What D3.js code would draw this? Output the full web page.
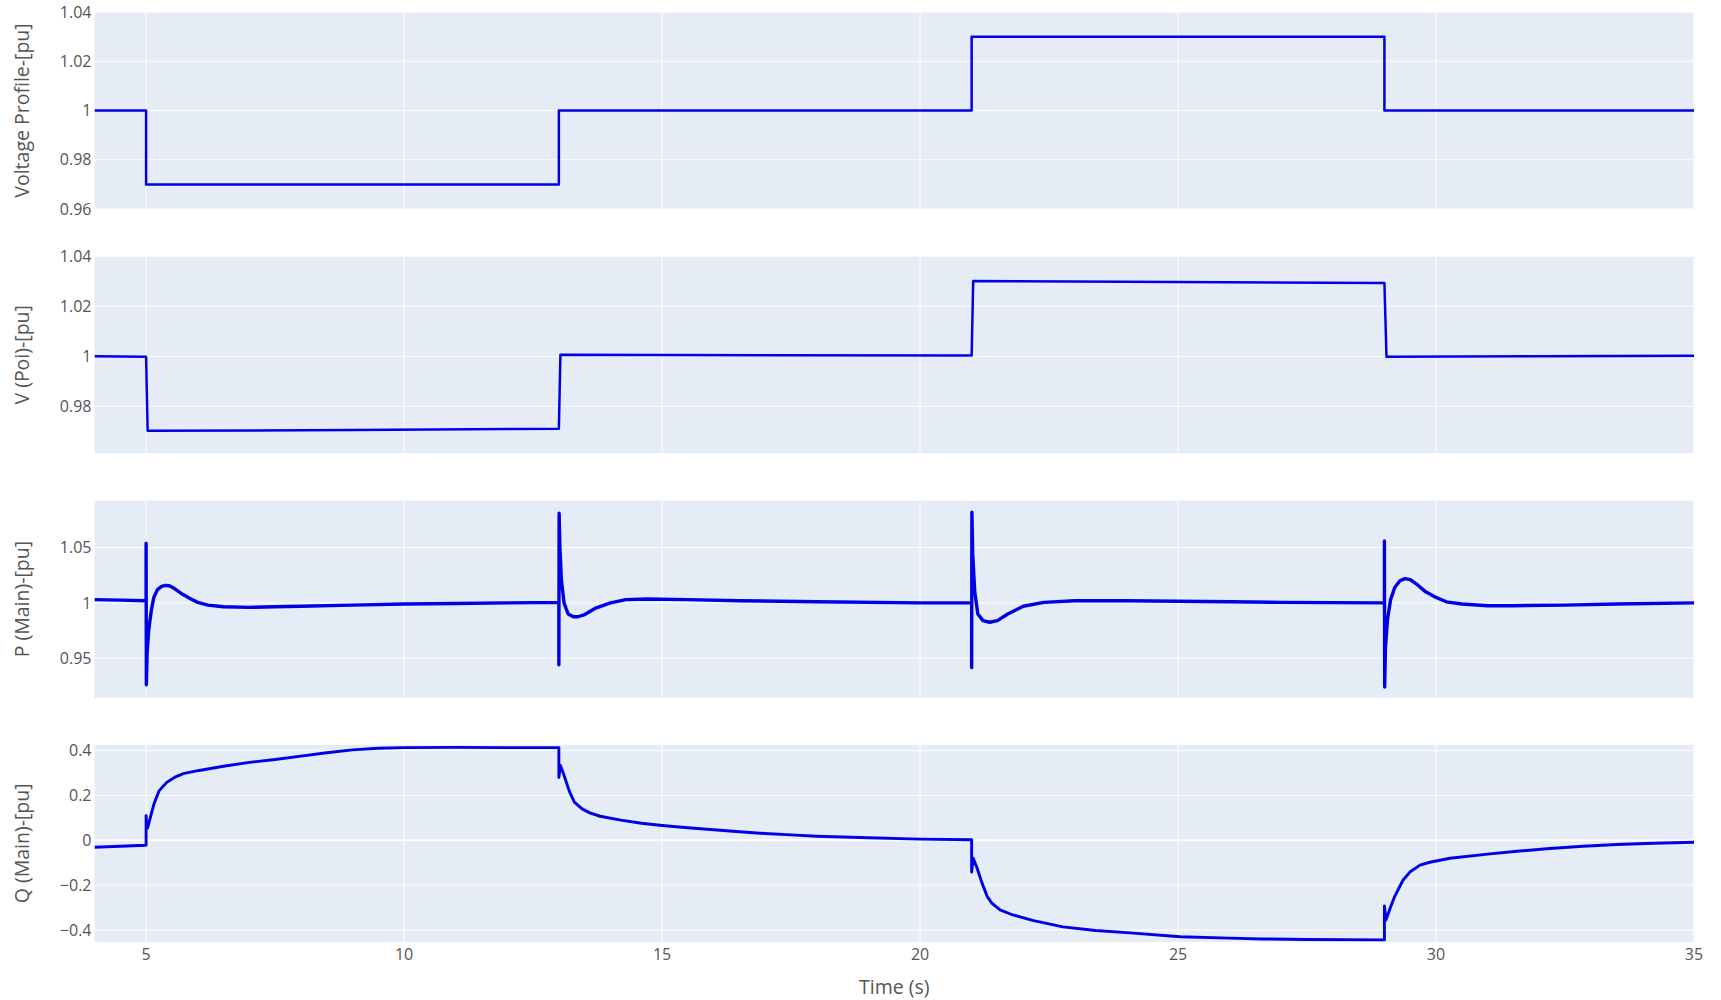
<!DOCTYPE html>
<html>
<head>
<meta charset="utf-8">
<script src="https://cdn.jsdelivr.net/npm/d3@7"></script>
<style>
  html, body { margin: 0; padding: 0; background: #fff; }
  svg { display: block; }
  text { font-family: "Open Sans", sans-serif; }
</style>
</head>
<body>
<svg id="chart" width="1721" height="1000"></svg>
<script>
// ---------------- DATA ----------------
const timeDomain = [4, 35];
const xTicks = [5, 10, 15, 20, 25, 30, 35];
const xTitle = "Time (s)";

const panelTitles = ["Voltage Profile-[pu]", "V (Poi)-[pu]", "P (Main)-[pu]", "Q (Main)-[pu]"];
const yDomains = [[0.96, 1.04], [0.9612, 1.04], [0.9144, 1.0925], [-0.453, 0.425]];
const yTicks1 = [0.96, 0.98, 1, 1.02, 1.04];
const yTicks2 = [0.98, 1, 1.02, 1.04];
const yTicks3 = [0.95, 1, 1.05];
const yTicks4 = [-0.4, -0.2, 0, 0.2, 0.4];

// Voltage profile (set-point)
const vpTime = [4, 5, 5, 13, 13, 21, 21, 29, 29, 35];
const vpVal  = [1, 1, 0.97, 0.97, 1, 1, 1.03, 1.03, 1, 1];

// V at point of interconnection
const poiTime = [4, 5.0, 5.03, 9, 13.0, 13.03, 17, 21.0, 21.03, 25, 29.0, 29.04, 32, 35];
const poiVal  = [1.0, 0.9998, 0.9702, 0.9705, 0.971, 1.0006, 1.0004, 1.0003, 1.0301, 1.0297, 1.0293, 0.9998, 1.0, 1.0002];

// Active power P (Main)
const pTime = [4, 4.5, 4.99, 5.0, 5.0, 5.005, 5.02, 5.05, 5.1, 5.15, 5.22, 5.3, 5.37, 5.45, 5.55, 5.7, 5.85, 6.0, 6.2, 6.5, 7.0, 7.5, 8, 9, 10, 11, 12, 12.99,
  13.0, 13.0, 13.005, 13.02, 13.05, 13.1, 13.18, 13.28, 13.37, 13.5, 13.7, 14.0, 14.3, 14.7, 15.5, 16.5, 18, 20, 20.99,
  21.0, 21.0, 21.005, 21.02, 21.06, 21.12, 21.22, 21.35, 21.5, 21.7, 22.0, 22.4, 23, 24, 25, 26, 27, 28.99,
  29.0, 29.0, 29.005, 29.02, 29.06, 29.12, 29.2, 29.3, 29.4, 29.5, 29.65, 29.8, 30.0, 30.2, 30.5, 31.0, 31.5, 32.5, 33.5, 35];
const pVal = [1.003, 1.0025, 1.002, 1.002, 1.054, 0.926, 0.955, 0.975, 0.993, 1.005, 1.012, 1.015, 1.0158, 1.0155, 1.013, 1.008, 1.004, 1.0005, 0.998, 0.9965, 0.996, 0.9965, 0.997, 0.998, 0.999, 0.9995, 1.0, 1.0005,
  1.0005, 0.944, 1.081, 1.05, 1.02, 1.0, 0.99, 0.9875, 0.9875, 0.9895, 0.995, 1.0, 1.003, 1.0035, 1.003, 1.002, 1.001, 1.0, 1.0,
  1.0, 0.9415, 1.082, 1.045, 1.01, 0.99, 0.984, 0.9825, 0.984, 0.99, 0.997, 1.0005, 1.002, 1.002, 1.0015, 1.001, 1.0005, 1.0,
  1.0, 1.056, 0.924, 0.96, 0.985, 1.003, 1.014, 1.02, 1.022, 1.021, 1.016, 1.01, 1.005, 1.001, 0.999, 0.9975, 0.9975, 0.998, 0.999, 1.0];

// Reactive power Q (Main)
const qTime = [4, 4.5, 4.99, 5.0, 5.0, 5.01, 5.03, 5.08, 5.15, 5.25, 5.4, 5.55, 5.72, 6.0, 6.5, 7.0, 7.5, 8.0, 8.5, 9.0, 9.5, 10, 11, 12, 12.98,
  13.0, 13.0, 13.03, 13.1, 13.2, 13.3, 13.45, 13.6, 13.8, 14.2, 14.6, 15, 15.5, 16, 16.5, 17, 17.5, 18, 19, 20, 20.99,
  21.0, 21.0, 21.03, 21.1, 21.2, 21.3, 21.39, 21.55, 21.8, 22.2, 22.77, 23.4, 24.07, 25.04, 26, 26.65, 27.5, 28.97,
  29.0, 29.0, 29.03, 29.1, 29.2, 29.36, 29.5, 29.69, 29.88, 30.27, 31, 31.57, 32.2, 32.85, 33.5, 34.2, 35];
const qVal = [-0.031, -0.027, -0.022, -0.022, 0.11, 0.06, 0.055, 0.1, 0.16, 0.22, 0.258, 0.28, 0.297, 0.31, 0.33, 0.347, 0.36, 0.375, 0.39, 0.403, 0.41, 0.413, 0.414, 0.413, 0.413,
  0.413, 0.28, 0.333, 0.29, 0.22, 0.17, 0.14, 0.122, 0.107, 0.09, 0.076, 0.066, 0.056, 0.047, 0.038, 0.03, 0.024, 0.018, 0.011, 0.005, 0.002,
  0.002, -0.142, -0.08, -0.12, -0.19, -0.25, -0.28, -0.31, -0.333, -0.358, -0.386, -0.402, -0.413, -0.43, -0.436, -0.44, -0.442, -0.444,
  -0.444, -0.293, -0.356, -0.31, -0.25, -0.178, -0.14, -0.111, -0.098, -0.08, -0.062, -0.049, -0.037, -0.027, -0.019, -0.013, -0.009];

// ---------------- LAYOUT ----------------
const svg = d3.select("#chart");
const plotLeft = 94.5, plotRight = 1694;
const panelTop0 = 12, panelStep = 244.3, panelH = 197;

const x = d3.scaleLinear().domain(timeDomain).range([plotLeft, plotRight]);

const panels = [
  { t: vpTime, v: vpVal, ticks: yTicks1, w: 2.5 },
  { t: poiTime, v: poiVal, ticks: yTicks2, w: 2.5 },
  { t: pTime, v: pVal, ticks: yTicks3, w: 3.4 },
  { t: qTime, v: qVal, ticks: yTicks4, w: 2.9 }
];

const fmt = d3.format("~g");

panels.forEach((p, i) => {
  const top = panelTop0 + i * panelStep;
  const bottom = top + panelH;
  const y = d3.scaleLinear().domain(yDomains[i]).range([bottom, top]);
  const g = svg.append("g");

  g.append("rect").attr("x", plotLeft).attr("y", top)
    .attr("width", plotRight - plotLeft).attr("height", panelH)
    .attr("fill", "#E5ECF6");

  g.append("g").selectAll("line").data(xTicks).join("line")
    .attr("x1", d => x(d)).attr("x2", d => x(d))
    .attr("y1", top).attr("y2", bottom)
    .attr("stroke", "#fff").attr("stroke-width", 1);

  g.append("g").selectAll("line").data(p.ticks).join("line")
    .attr("x1", plotLeft).attr("x2", plotRight)
    .attr("y1", d => y(d)).attr("y2", d => y(d))
    .attr("stroke", "#fff").attr("stroke-width", d => d === 0 ? 2 : 1);

  g.append("g").selectAll("text").data(p.ticks).join("text")
    .attr("x", plotLeft - 3).attr("y", d => y(d))
    .attr("dy", "0.35em").attr("text-anchor", "end")
    .attr("font-size", 16).attr("fill", "#555")
    .text(d => fmt(d));

  g.append("text")
    .attr("transform", `translate(29,${(top + bottom) / 2}) rotate(-90)`)
    .attr("text-anchor", "middle")
    .attr("font-size", 19.5).attr("fill", "#555")
    .text(panelTitles[i]);

  const clipId = "clip" + i;
  svg.append("clipPath").attr("id", clipId).append("rect")
    .attr("x", plotLeft).attr("y", top)
    .attr("width", plotRight - plotLeft).attr("height", panelH);

  const pts = p.t.map((t, k) => [t, p.v[k]]);
  const line = d3.line().x(d => x(d[0])).y(d => y(d[1]));
  g.append("path").datum(pts)
    .attr("clip-path", `url(#${clipId})`)
    .attr("d", line)
    .attr("fill", "none").attr("stroke", "#0000e6")
    .attr("stroke-width", p.w).attr("stroke-linejoin", "round");

  if (i === 3) {
    g.append("g").selectAll("text").data(xTicks).join("text")
      .attr("x", d => x(d)).attr("y", bottom + 18)
      .attr("text-anchor", "middle").attr("font-size", 16).attr("fill", "#555")
      .text(d => fmt(d));
    g.append("text")
      .attr("x", (plotLeft + plotRight) / 2).attr("y", 994)
      .attr("text-anchor", "middle").attr("font-size", 19.5).attr("fill", "#555")
      .text(xTitle);
  }
});
</script>
</body>
</html>
